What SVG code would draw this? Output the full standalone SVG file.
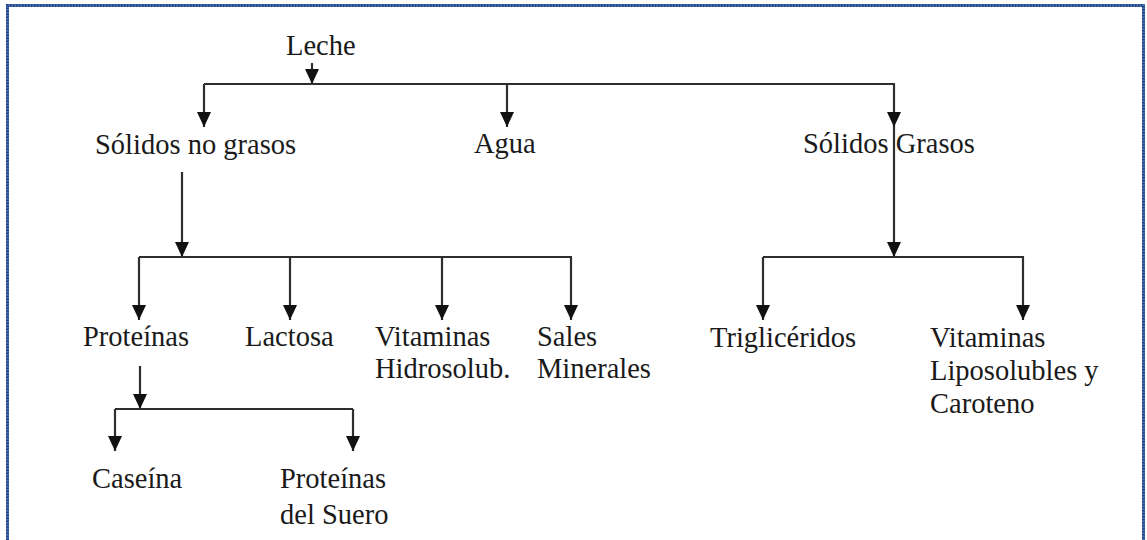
<svg xmlns="http://www.w3.org/2000/svg" width="1147" height="540" viewBox="0 0 1147 540">
  <style>
    .lbl { font-family: "Liberation Serif", "Times New Roman", serif; font-size: 28.5px; fill: #1a1a1a; }
    .conn { stroke: #2e2e2e; stroke-width: 2.2; fill: none; }
    .arr { marker-end: url(#ah); }
    .frame { stroke: #4a70b0; stroke-width: 3; fill: none; }
    .frame2 { stroke: #23468a; stroke-width: 3; fill: none; stroke-dasharray: 1.5 1.5; }
  </style>
  <defs>
    <marker id="ah" viewBox="0 0 15 14" refX="15" refY="7" markerWidth="15" markerHeight="14" markerUnits="userSpaceOnUse" orient="auto">
      <path d="M0,0 L15,7 L0,14 z" fill="#111"/>
    </marker>
  </defs>
  <rect x="0" y="0" width="1147" height="540" fill="#fff"/>
  <g id="frame">
    <path class="frame" d="M7.5,540 V5.5 H1143.5 V540"/>
    <path class="frame2" d="M7.5,540 V5.5 H1143.5 V540"/>
  </g>
  <g id="connectors">
    <line class="conn arr" x1="312" y1="63" x2="312" y2="84"/>
    <line class="conn" x1="204" y1="84" x2="895" y2="84"/>
    <line class="conn arr" x1="204" y1="84" x2="204" y2="127"/>
    <line class="conn arr" x1="507" y1="84" x2="507" y2="127"/>
    <line class="conn arr" x1="894" y1="84" x2="894" y2="127"/>

    <line class="conn arr" x1="182" y1="172" x2="182" y2="257"/>
    <line class="conn" x1="139" y1="257" x2="572" y2="257"/>
    <line class="conn arr" x1="139" y1="257" x2="139" y2="320"/>
    <line class="conn arr" x1="290" y1="257" x2="290" y2="320"/>
    <line class="conn arr" x1="442" y1="257" x2="442" y2="320"/>
    <line class="conn arr" x1="571" y1="257" x2="571" y2="320"/>

    <line class="conn arr" x1="894" y1="127" x2="894" y2="257"/>
    <line class="conn" x1="763" y1="257" x2="1024" y2="257"/>
    <line class="conn arr" x1="763" y1="257" x2="763" y2="320"/>
    <line class="conn arr" x1="1023" y1="257" x2="1023" y2="320"/>

    <line class="conn arr" x1="140" y1="366" x2="140" y2="409"/>
    <line class="conn" x1="115" y1="409" x2="353" y2="409"/>
    <line class="conn arr" x1="115" y1="409" x2="115" y2="451"/>
    <line class="conn arr" x1="353" y1="409" x2="353" y2="451"/>
  </g>
  <g id="leche"><text class="lbl" x="286" y="55">Leche</text></g>
  <g id="solidos-no-grasos"><text class="lbl" x="95" y="154">Sólidos no grasos</text></g>
  <g id="agua"><text class="lbl" x="474" y="153">Agua</text></g>
  <g id="solidos-grasos"><text class="lbl" x="803" y="153">Sólidos Grasos</text></g>
  <g id="proteinas"><text class="lbl" x="83" y="346">Proteínas</text></g>
  <g id="lactosa"><text class="lbl" x="245" y="346">Lactosa</text></g>
  <g id="vitaminas-hidrosolub"><text class="lbl" x="375" y="346">Vitaminas</text><text class="lbl" x="375" y="378">Hidrosolub.</text></g>
  <g id="sales-minerales"><text class="lbl" x="537" y="346">Sales</text><text class="lbl" x="537" y="378">Minerales</text></g>
  <g id="trigliceridos"><text class="lbl" x="710" y="347">Triglicéridos</text></g>
  <g id="vitaminas-liposolubles"><text class="lbl" x="930" y="347">Vitaminas</text><text class="lbl" x="930" y="380">Liposolubles y</text><text class="lbl" x="930" y="413">Caroteno</text></g>
  <g id="caseina"><text class="lbl" x="92" y="488">Caseína</text></g>
  <g id="proteinas-suero"><text class="lbl" x="280" y="488">Proteínas</text><text class="lbl" x="280" y="524">del Suero</text></g>
</svg>
